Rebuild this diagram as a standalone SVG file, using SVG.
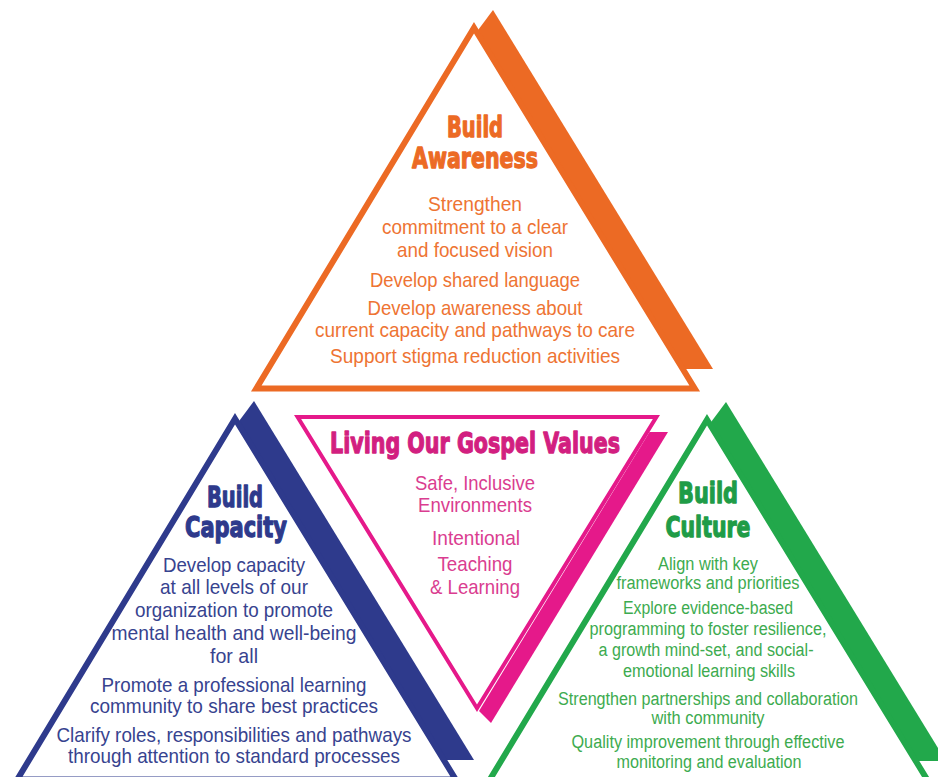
<svg xmlns="http://www.w3.org/2000/svg" xmlns:xlink="http://www.w3.org/1999/xlink" width="938" height="777" viewBox="0 0 938 777">
  <style>
    text { font-family: "Liberation Sans", Arial, sans-serif; text-anchor: middle; }
    .title { font-family: "DejaVu Sans", "Liberation Sans", sans-serif; font-size: 28px; font-weight: bold; stroke-width: 1.3px; stroke-linejoin: round; }
    .body { font-size: 21px; }
    .small { font-size: 18px; }
    .orange .title { fill: #EC6A24; stroke: #EC6A24; }
    .orange .body { fill: #EE7433; }
    .blue .title { fill: #2E3A8C; stroke: #2E3A8C; }
    .blue .body { fill: #37438F; }
    .green .title { fill: #1F9C47; stroke: #1F9C47; }
    .green .small { fill: #3DAB4F; }
    .magenta .title { fill: #D21F80; stroke: #D21F80; }
    .magenta .body { fill: #DA3D90; }
  </style>
  <defs>
    <!-- upright triangle frame with offset side band; origin = outer apex -->
    <g id="upright-frame">
      <polygon points="2.6,10 19,-12 239,347 208.4,347" fill="currentColor"/>
      <polygon points="0,5.8 -217.7,366.5 220.7,366.5" fill="none" stroke="currentColor" stroke-width="6" stroke-miterlimit="10"/>
    </g>
  </defs>

  <rect width="938" height="777" fill="#ffffff"/>

  <!-- Build Awareness -->
  <g id="node-awareness" class="orange">
    <use href="#upright-frame" x="474" y="22" style="color:#EC6A24"/>
    <text class="title" x="475" y="137" textLength="56" lengthAdjust="spacingAndGlyphs">Build</text>
    <text class="title" x="475" y="168" textLength="126" lengthAdjust="spacingAndGlyphs">Awareness</text>
    <text class="body" x="475" y="211" textLength="94" lengthAdjust="spacingAndGlyphs">Strengthen</text>
    <text class="body" x="475" y="234" textLength="186" lengthAdjust="spacingAndGlyphs">commitment to a clear</text>
    <text class="body" x="475" y="257" textLength="156" lengthAdjust="spacingAndGlyphs">and focused vision</text>
    <text class="body" x="475" y="287" textLength="210" lengthAdjust="spacingAndGlyphs">Develop shared language</text>
    <text class="body" x="475" y="315" textLength="215" lengthAdjust="spacingAndGlyphs">Develop awareness about</text>
    <text class="body" x="475" y="337" textLength="320" lengthAdjust="spacingAndGlyphs">current capacity and pathways to care</text>
    <text class="body" x="475" y="363" textLength="290" lengthAdjust="spacingAndGlyphs">Support stigma reduction activities</text>
  </g>

  <!-- Build Capacity -->
  <g id="node-capacity" class="blue">
    <use href="#upright-frame" x="235" y="413" style="color:#2E3A8C"/>
    <text class="title" x="235" y="507" textLength="56" lengthAdjust="spacingAndGlyphs">Build</text>
    <text class="title" x="236" y="537" textLength="102" lengthAdjust="spacingAndGlyphs">Capacity</text>
    <text class="body" x="234" y="572" textLength="142" lengthAdjust="spacingAndGlyphs">Develop capacity</text>
    <text class="body" x="234" y="594" textLength="148" lengthAdjust="spacingAndGlyphs">at all levels of our</text>
    <text class="body" x="234" y="617" textLength="198" lengthAdjust="spacingAndGlyphs">organization to promote</text>
    <text class="body" x="234" y="640" textLength="245" lengthAdjust="spacingAndGlyphs">mental health and well-being</text>
    <text class="body" x="234" y="663" textLength="48" lengthAdjust="spacingAndGlyphs">for all</text>
    <text class="body" x="234" y="692" textLength="265" lengthAdjust="spacingAndGlyphs">Promote a professional learning</text>
    <text class="body" x="234" y="713" textLength="288" lengthAdjust="spacingAndGlyphs">community to share best practices</text>
    <text class="body" x="234" y="742" textLength="355" lengthAdjust="spacingAndGlyphs">Clarify roles, responsibilities and pathways</text>
    <text class="body" x="234" y="763" textLength="332" lengthAdjust="spacingAndGlyphs">through attention to standard processes</text>
  </g>

  <!-- Build Culture -->
  <g id="node-culture" class="green">
    <use href="#upright-frame" x="707" y="414" style="color:#22A84B"/>
    <text class="title" x="708" y="503" textLength="60" lengthAdjust="spacingAndGlyphs">Build</text>
    <text class="title" x="708" y="537" textLength="85" lengthAdjust="spacingAndGlyphs">Culture</text>
    <text class="small" x="708" y="570" textLength="100" lengthAdjust="spacingAndGlyphs">Align with key</text>
    <text class="small" x="708" y="589" textLength="183" lengthAdjust="spacingAndGlyphs">frameworks and priorities</text>
    <text class="small" x="708" y="614" textLength="170" lengthAdjust="spacingAndGlyphs">Explore evidence-based</text>
    <text class="small" x="708" y="635" textLength="237" lengthAdjust="spacingAndGlyphs">programming to foster resilience,</text>
    <text class="small" x="706" y="656" textLength="215" lengthAdjust="spacingAndGlyphs">a growth mind-set, and social-</text>
    <text class="small" x="709" y="677" textLength="172" lengthAdjust="spacingAndGlyphs">emotional learning skills</text>
    <text class="small" x="708" y="705" textLength="300" lengthAdjust="spacingAndGlyphs">Strengthen partnerships and collaboration</text>
    <text class="small" x="708" y="724" textLength="113" lengthAdjust="spacingAndGlyphs">with community</text>
    <text class="small" x="708" y="748" textLength="273" lengthAdjust="spacingAndGlyphs">Quality improvement through effective</text>
    <text class="small" x="709" y="768" textLength="185" lengthAdjust="spacingAndGlyphs">monitoring and evaluation</text>
  </g>

  <!-- Living Our Gospel Values (inverted) -->
  <g id="node-values" class="magenta">
    <polygon points="649.5,432 668,432 491,723 479,711" fill="#E5198A"/>
    <polygon points="297.6,417 656.4,417 477,708.3" fill="none" stroke="#E5198A" stroke-width="4" stroke-miterlimit="10"/>
    <text class="title" x="475" y="453" textLength="290" lengthAdjust="spacingAndGlyphs">Living Our Gospel Values</text>
    <text class="body" x="475" y="490" textLength="120" lengthAdjust="spacingAndGlyphs">Safe, Inclusive</text>
    <text class="body" x="475" y="512" textLength="114" lengthAdjust="spacingAndGlyphs">Environments</text>
    <text class="body" x="476" y="545" textLength="88" lengthAdjust="spacingAndGlyphs">Intentional</text>
    <text class="body" x="475" y="571" textLength="75" lengthAdjust="spacingAndGlyphs">Teaching</text>
    <text class="body" x="475" y="594" textLength="90" lengthAdjust="spacingAndGlyphs">&amp; Learning</text>
  </g>
</svg>
